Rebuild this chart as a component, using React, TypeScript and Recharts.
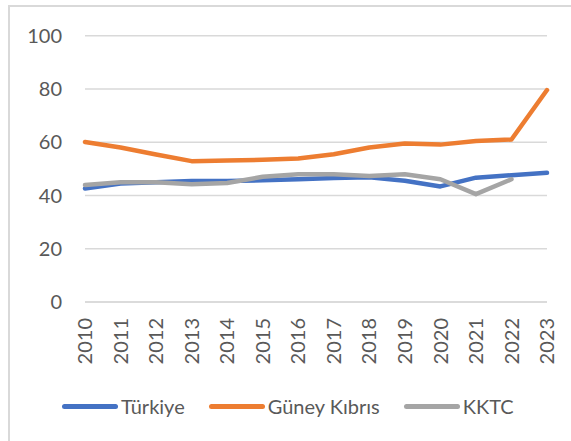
import { LineChart, Line, XAxis, YAxis, CartesianGrid, Legend } from 'recharts';

const YEARS = ['2010', '2011', '2012', '2013', '2014', '2015', '2016', '2017', '2018', '2019', '2020', '2021', '2022', '2023'];
const TURKIYE = [42.6, 44.5, 45.0, 45.4, 45.4, 45.7, 46.1, 46.6, 46.8, 45.5, 43.4, 46.7, 47.6, 48.5];
const GUNEY_KIBRIS = [60.1, 58.0, 55.4, 52.9, 53.1, 53.4, 53.9, 55.5, 58.0, 59.5, 59.1, 60.5, 61.0, 79.6];
const KKTC: (number | null)[] = [43.9, 45.0, 45.0, 44.2, 44.7, 47.0, 48.0, 48.0, 47.3, 48.0, 46.1, 40.5, 46.1, null];
const Y_TICKS = [0, 20, 40, 60, 80, 100];

const SERIES = [
    { key: 'Türkiye', color: '#4472C4' },
    { key: 'Güney Kıbrıs', color: '#ED7D31' },
    { key: 'KKTC', color: '#A5A5A5' },
];

const data = YEARS.map((year, i) => ({
    year,
    'Türkiye': TURKIYE[i],
    'Güney Kıbrıs': GUNEY_KIBRIS[i],
    'KKTC': KKTC[i],
}));

const FONT = 'Lato, "Noto Sans", sans-serif';
const TEXT = '#595959';

function YearTick({ x, y, payload }: { x: number; y: number; payload: { value: string } }) {
    return (
        <text x={x} y={y} transform={`rotate(-90, ${x}, ${y})`} textAnchor="end" dy="0.36em"
            fill={TEXT} fontSize={20} fontFamily={FONT}>
            {payload.value}
        </text>
    );
}

function LegendContent() {
    return (
        <div style={{ display: 'flex', alignItems: 'center', fontFamily: FONT, fontSize: 20, color: TEXT }}>
            {SERIES.map((s) => (
                <div key={s.key} style={{ display: 'flex', alignItems: 'center', marginRight: 24 }}>
                    <span style={{ display: 'inline-block', width: 56, height: 5, borderRadius: 3, background: s.color, marginRight: 3 }} />
                    <span>{s.key}</span>
                </div>
            ))}
        </div>
    );
}

export default function App() {
    return (
        <div style={{ position: 'absolute', left: 8, top: 5, width: 563, height: 436, borderLeft: '2px solid #D9D9D9', borderTop: '2px solid #D9D9D9', background: '#fff' }}>
            <LineChart width={561} height={434} data={data} margin={{ top: 28.7, right: 24, left: 0, bottom: 0 }}>
                <CartesianGrid vertical={false} stroke="#D9D9D9" strokeWidth={1.5} />
                <XAxis dataKey="year" height={139} tick={YearTick} tickLine={false} tickMargin={10}
                    axisLine={{ stroke: '#D9D9D9', strokeWidth: 1.5 }} interval={0} />
                <YAxis width={75} domain={[0, 100]} ticks={Y_TICKS} tickLine={false} axisLine={false} tickMargin={17}
                    tick={{ fill: TEXT, fontSize: 20, fontFamily: FONT }} />
                {SERIES.map((s) => (
                    <Line key={s.key} type="linear" dataKey={s.key} stroke={s.color} strokeWidth={4.5}
                        strokeLinecap="round" strokeLinejoin="round" dot={false} isAnimationActive={false} />
                ))}
                <Legend verticalAlign="middle" layout="horizontal" content={<LegendContent />}
                    wrapperStyle={{ top: 387, left: 52, width: 'auto' }} />
            </LineChart>
        </div>
    );
}
